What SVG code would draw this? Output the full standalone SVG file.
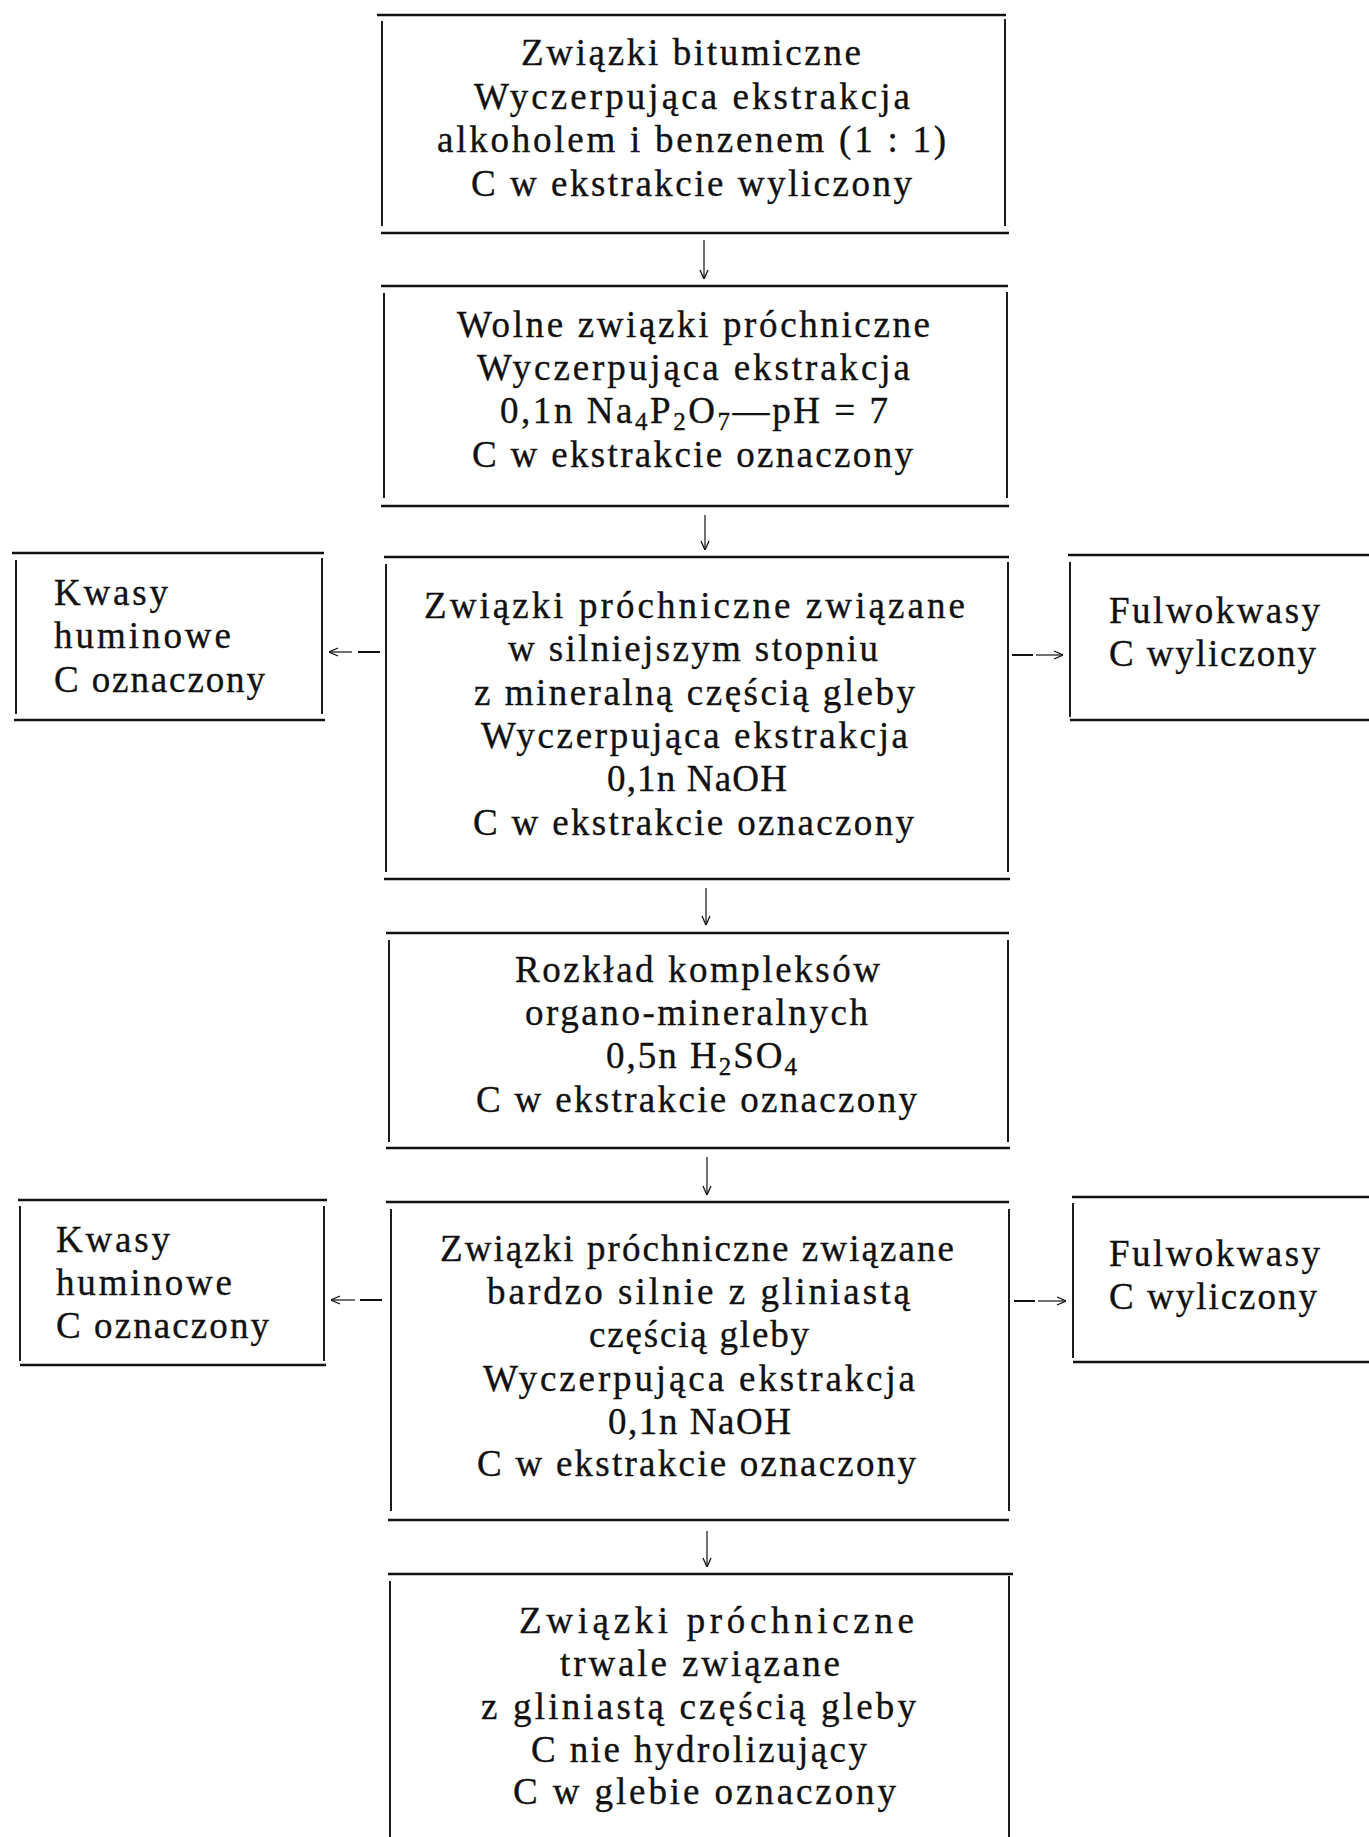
<svg xmlns="http://www.w3.org/2000/svg" width="1369" height="1837" viewBox="0 0 1369 1837">
<defs>
<style>
.h{stroke:#111;stroke-width:2.4;fill:none}
.v{stroke:#111;stroke-width:1.9;fill:none}
.c{stroke:#111;stroke-width:1.2;fill:none}
.d{stroke:#111;stroke-width:2;fill:none}
text{font-family:"Liberation Serif","Times New Roman",serif;font-size:37px;fill:#111;stroke:#111;stroke-width:0.35}
.sub{font-size:25px}
</style>
<marker id="ah" viewBox="0 0 10 10" refX="10" refY="5" markerWidth="10" markerHeight="10" markerUnits="userSpaceOnUse" orient="auto">
<path d="M1,1 L10,5 L1,9" fill="none" stroke="#111" stroke-width="1.3"/>
</marker>
</defs>
<rect width="1369" height="1837" fill="#fff"/>

<g id="n1">
<line class="h" x1="377" y1="15" x2="1006" y2="15"/>
<line class="v" x1="382" y1="21" x2="382" y2="226"/>
<line class="v" x1="1005" y1="19" x2="1005" y2="226"/>
<line class="h" x1="381" y1="233" x2="1009" y2="233"/>
<text x="521" y="65" textLength="340" lengthAdjust="spacing">Związki bitumiczne</text>
<text x="474" y="109" textLength="436" lengthAdjust="spacing">Wyczerpująca ekstrakcja</text>
<text x="437" y="152" textLength="509" lengthAdjust="spacing">alkoholem i benzenem (1 : 1)</text>
<text x="471" y="196" textLength="441" lengthAdjust="spacing">C w ekstrakcie wyliczony</text>
</g>

<g id="n2">
<line class="h" x1="381" y1="286" x2="1008" y2="286"/>
<line class="v" x1="384" y1="293" x2="384" y2="498"/>
<line class="v" x1="1007" y1="292" x2="1007" y2="498"/>
<line class="h" x1="381" y1="506" x2="1009" y2="506"/>
<text x="457" y="337" textLength="473" lengthAdjust="spacing">Wolne związki próchniczne</text>
<text x="477" y="380" textLength="433" lengthAdjust="spacing">Wyczerpująca ekstrakcja</text>
<text x="500" y="423" textLength="388" lengthAdjust="spacing">0,1n  Na<tspan class="sub" dy="7">4</tspan><tspan dy="-7">P</tspan><tspan class="sub" dy="7">2</tspan><tspan dy="-7">O</tspan><tspan class="sub" dy="7">7</tspan><tspan dy="-7">—pH = 7</tspan></text>
<text x="472" y="467" textLength="441" lengthAdjust="spacing">C w ekstrakcie oznaczony</text>
</g>

<g id="n3">
<line class="h" x1="384" y1="557" x2="1009" y2="557"/>
<line class="v" x1="386" y1="564" x2="386" y2="872"/>
<line class="v" x1="1008" y1="562" x2="1008" y2="872"/>
<line class="h" x1="384" y1="879" x2="1010" y2="879"/>
<text x="424" y="618" textLength="541" lengthAdjust="spacing">Związki próchniczne związane</text>
<text x="508" y="661" textLength="370" lengthAdjust="spacing">w silniejszym stopniu</text>
<text x="474" y="705" textLength="441" lengthAdjust="spacing">z mineralną częścią gleby</text>
<text x="481" y="748" textLength="427" lengthAdjust="spacing">Wyczerpująca ekstrakcja</text>
<text x="607" y="791" textLength="180" lengthAdjust="spacing">0,1n NaOH</text>
<text x="473" y="835" textLength="441" lengthAdjust="spacing">C w ekstrakcie oznaczony</text>
</g>

<g id="nA">
<line class="h" x1="12" y1="553" x2="324" y2="553"/>
<line class="v" x1="16" y1="560" x2="16" y2="714"/>
<line class="v" x1="322" y1="558" x2="322" y2="714"/>
<line class="h" x1="14" y1="720" x2="325" y2="720"/>
<text x="54" y="605" textLength="114" lengthAdjust="spacing">Kwasy</text>
<text x="54" y="648" textLength="177" lengthAdjust="spacing">huminowe</text>
<text x="54" y="692" textLength="211" lengthAdjust="spacing">C oznaczony</text>
</g>

<g id="nB">
<line class="h" x1="1068" y1="555" x2="1369" y2="555"/>
<line class="v" x1="1070" y1="562" x2="1070" y2="717"/>
<line class="h" x1="1070" y1="720" x2="1369" y2="720"/>
<text x="1109" y="623" textLength="211" lengthAdjust="spacing">Fulwokwasy</text>
<text x="1109" y="666" textLength="207" lengthAdjust="spacing">C wyliczony</text>
</g>

<g id="n4">
<line class="h" x1="386" y1="933" x2="1009" y2="933"/>
<line class="v" x1="389" y1="940" x2="389" y2="1142"/>
<line class="v" x1="1008" y1="940" x2="1008" y2="1142"/>
<line class="h" x1="386" y1="1148" x2="1010" y2="1148"/>
<text x="515" y="982" textLength="365" lengthAdjust="spacing">Rozkład kompleksów</text>
<text x="525" y="1025" textLength="343" lengthAdjust="spacing">organo-mineralnych</text>
<text x="606" y="1068" textLength="191" lengthAdjust="spacing">0,5n  H<tspan class="sub" dy="7">2</tspan><tspan dy="-7">SO</tspan><tspan class="sub" dy="7">4</tspan></text>
<text x="476" y="1112" textLength="441" lengthAdjust="spacing">C w ekstrakcie oznaczony</text>
</g>

<g id="n5">
<line class="h" x1="386" y1="1202" x2="1009" y2="1202"/>
<line class="v" x1="391" y1="1209" x2="391" y2="1511"/>
<line class="v" x1="1009" y1="1209" x2="1009" y2="1511"/>
<line class="h" x1="388" y1="1520" x2="1009" y2="1520"/>
<text x="440" y="1261" textLength="514" lengthAdjust="spacing">Związki próchniczne związane</text>
<text x="487" y="1304" textLength="423" lengthAdjust="spacing">bardzo silnie z gliniastą</text>
<text x="589" y="1347" textLength="220" lengthAdjust="spacing">częścią gleby</text>
<text x="483" y="1391" textLength="432" lengthAdjust="spacing">Wyczerpująca ekstrakcja</text>
<text x="608" y="1434" textLength="183" lengthAdjust="spacing">0,1n NaOH</text>
<text x="477" y="1476" textLength="439" lengthAdjust="spacing">C w ekstrakcie oznaczony</text>
</g>

<g id="nC">
<line class="h" x1="18" y1="1200" x2="327" y2="1200"/>
<line class="v" x1="20" y1="1206" x2="20" y2="1361"/>
<line class="v" x1="324" y1="1206" x2="324" y2="1361"/>
<line class="h" x1="20" y1="1365" x2="326" y2="1365"/>
<text x="56" y="1252" textLength="114" lengthAdjust="spacing">Kwasy</text>
<text x="56" y="1295" textLength="176" lengthAdjust="spacing">huminowe</text>
<text x="56" y="1338" textLength="213" lengthAdjust="spacing">C oznaczony</text>
</g>

<g id="nD">
<line class="h" x1="1072" y1="1197" x2="1369" y2="1197"/>
<line class="v" x1="1073" y1="1203" x2="1073" y2="1358"/>
<line class="h" x1="1073" y1="1362" x2="1369" y2="1362"/>
<text x="1109" y="1266" textLength="211" lengthAdjust="spacing">Fulwokwasy</text>
<text x="1109" y="1309" textLength="208" lengthAdjust="spacing">C wyliczony</text>
</g>

<g id="n6">
<line class="h" x1="388" y1="1574" x2="1013" y2="1574"/>
<line class="v" x1="390" y1="1581" x2="390" y2="1837"/>
<line class="v" x1="1009" y1="1576" x2="1009" y2="1837"/>
<text x="519" y="1633" textLength="395" lengthAdjust="spacing">Związki próchniczne</text>
<text x="560" y="1676" textLength="280" lengthAdjust="spacing">trwale związane</text>
<text x="481" y="1719" textLength="435" lengthAdjust="spacing">z gliniastą częścią gleby</text>
<text x="531" y="1762" textLength="336" lengthAdjust="spacing">C nie hydrolizujący</text>
<text x="513" y="1804" textLength="383" lengthAdjust="spacing">C w glebie oznaczony</text>
</g>

<g id="connectors">
<line class="c" x1="704" y1="240" x2="704" y2="279" marker-end="url(#ah)"/>
<line class="c" x1="705" y1="515" x2="705" y2="550" marker-end="url(#ah)"/>
<line class="c" x1="706" y1="888" x2="706" y2="925" marker-end="url(#ah)"/>
<line class="c" x1="707" y1="1157" x2="707" y2="1195" marker-end="url(#ah)"/>
<line class="c" x1="707" y1="1531" x2="707" y2="1567" marker-end="url(#ah)"/>
<line class="d" x1="358" y1="652" x2="380" y2="652"/>
<line class="c" x1="352" y1="652" x2="329" y2="652" marker-end="url(#ah)"/>
<line class="d" x1="1012" y1="655" x2="1033" y2="655"/>
<line class="c" x1="1036" y1="655" x2="1063" y2="655" marker-end="url(#ah)"/>
<line class="d" x1="360" y1="1300" x2="382" y2="1300"/>
<line class="c" x1="355" y1="1300" x2="331" y2="1300" marker-end="url(#ah)"/>
<line class="d" x1="1014" y1="1301" x2="1035" y2="1301"/>
<line class="c" x1="1038" y1="1301" x2="1066" y2="1301" marker-end="url(#ah)"/>
</g>
</svg>
